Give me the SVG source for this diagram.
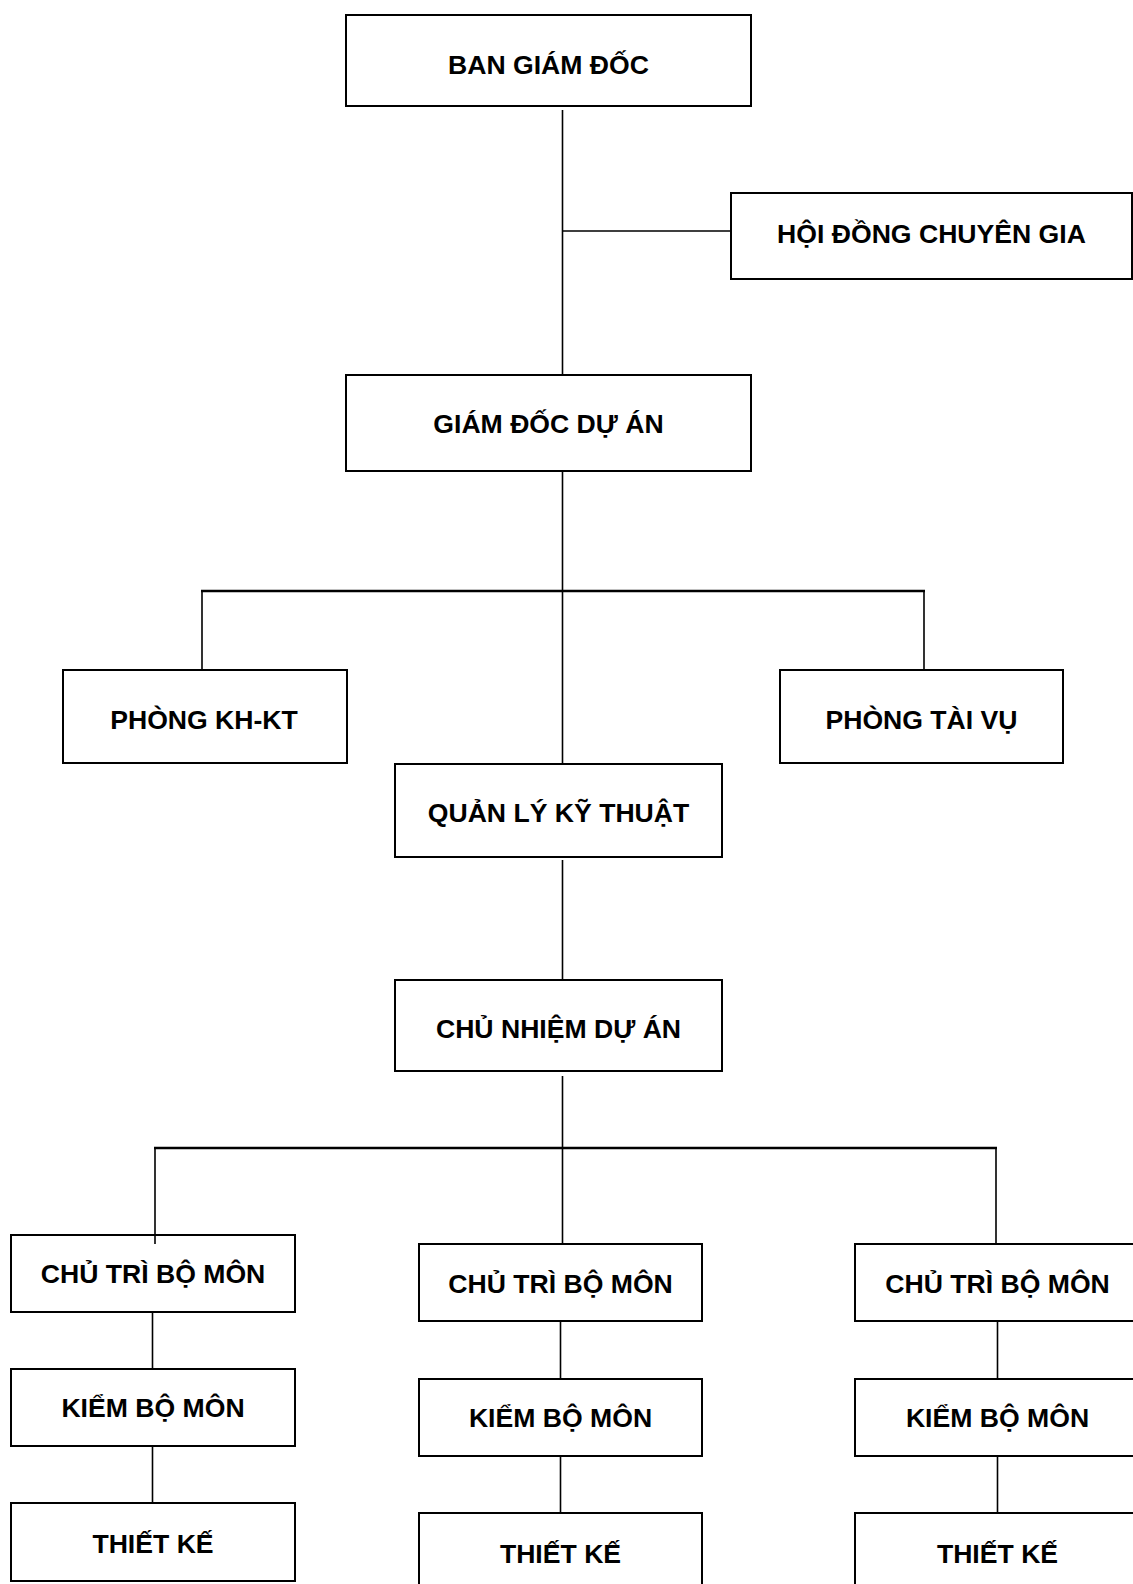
<svg xmlns="http://www.w3.org/2000/svg" width="1133" height="1584" viewBox="0 0 1133 1584">
<style>
.box{fill:#fff;stroke:#000;stroke-width:2}
.lbl{font-family:"Liberation Sans",Arial,sans-serif;font-weight:bold;font-size:26.6px;fill:#000;text-anchor:middle}
.ln{stroke:#000;stroke-width:1.6;fill:none}
.bar{stroke:#000;stroke-width:2.4;fill:none}
</style>
<rect width="1133" height="1584" fill="#fff"/>
<g id="n1"><rect class="box" x="346" y="15" width="405" height="91"/><text class="lbl" x="548.5" y="74">BAN GIÁM ĐỐC</text></g>
<g id="n2"><rect class="box" x="731" y="193" width="401" height="86"/><text class="lbl" x="931.5" y="243">HỘI ĐỒNG CHUYÊN GIA</text></g>
<g id="n3"><rect class="box" x="346" y="375" width="405" height="96"/><text class="lbl" x="548.5" y="433">GIÁM ĐỐC DỰ ÁN</text></g>
<g id="n4"><rect class="box" x="63" y="670" width="284" height="93"/><text class="lbl" x="204" y="729">PHÒNG KH-KT</text></g>
<g id="n5"><rect class="box" x="780" y="670" width="283" height="93"/><text class="lbl" x="921.5" y="729">PHÒNG TÀI VỤ</text></g>
<g id="n6"><rect class="box" x="395" y="764" width="327" height="93"/><text class="lbl" x="558.5" y="822">QUẢN LÝ KỸ THUẬT</text></g>
<g id="n7"><rect class="box" x="395" y="980" width="327" height="91"/><text class="lbl" x="558.5" y="1038">CHỦ NHIỆM DỰ ÁN</text></g>
<g id="n8"><rect class="box" x="11" y="1235" width="284" height="77"/><text class="lbl" x="153" y="1283">CHỦ TRÌ BỘ MÔN</text></g>
<g id="n9"><rect class="box" x="419" y="1244" width="283" height="77"/><text class="lbl" x="560.5" y="1293">CHỦ TRÌ BỘ MÔN</text></g>
<g id="n10"><rect class="box" x="855" y="1244" width="285" height="77"/><text class="lbl" x="997.5" y="1293">CHỦ TRÌ BỘ MÔN</text></g>
<g id="n11"><rect class="box" x="11" y="1369" width="284" height="77"/><text class="lbl" x="153" y="1417">KIỂM BỘ MÔN</text></g>
<g id="n12"><rect class="box" x="419" y="1379" width="283" height="77"/><text class="lbl" x="560.5" y="1427">KIỂM BỘ MÔN</text></g>
<g id="n13"><rect class="box" x="855" y="1379" width="285" height="77"/><text class="lbl" x="997.5" y="1427">KIỂM BỘ MÔN</text></g>
<g id="n14"><rect class="box" x="11" y="1503" width="284" height="78"/><text class="lbl" x="153" y="1553">THIẾT KẾ</text></g>
<g id="n15"><rect class="box" x="419" y="1513" width="283" height="80"/><text class="lbl" x="560.5" y="1563">THIẾT KẾ</text></g>
<g id="n16"><rect class="box" x="855" y="1513" width="285" height="80"/><text class="lbl" x="997.5" y="1563">THIẾT KẾ</text></g>
<g id="connectors">
<path class="ln" d="M562.5 110V375M562.5 231H731M562.5 471V764M202 591V670M924 591V670M562.5 860V980M562.5 1076V1244M155 1148V1244M996 1148V1244M152.5 1312V1369M152.5 1446V1503M560.5 1321V1379M560.5 1456V1513M997.5 1321V1379M997.5 1456V1513"/>
<path class="bar" d="M201 591H925M154 1148H997"/>
</g>
</svg>
